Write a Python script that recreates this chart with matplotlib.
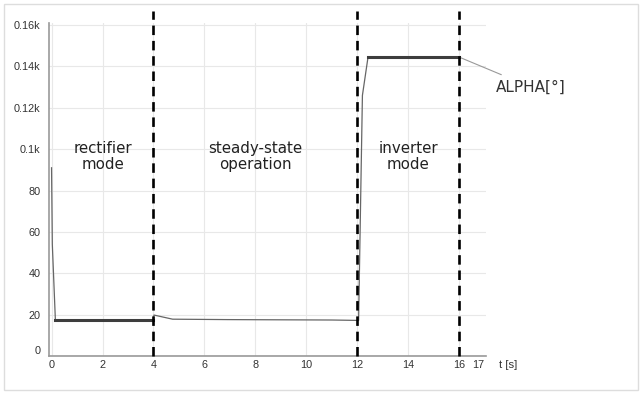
import matplotlib
matplotlib.use("Agg")
import matplotlib.pyplot as plt
from matplotlib.patches import Rectangle

# ALPHA trace (time in s, angle in degrees)
t_alpha = [0.0, 0.03, 0.15, 4.0, 4.02, 4.75, 6.9, 11.0, 12.05, 12.2, 12.42, 16.0]
alpha = [91, 54, 17.5, 17.5, 19.8, 17.8, 17.6, 17.4, 17.2, 126, 144.5, 144.5]

# noisy flat parts, drawn as thick bands
band_start = [0.15, 12.42]
band_end = [4.0, 16.0]
band_level = [17.5, 144.5]

mode_bounds = [4, 12, 16]
mode_names = ["rectifier\nmode", "steady-state\noperation", "inverter\nmode"]
mode_centers = [2, 8, 14]

x_ticks = [0, 2, 4, 6, 8, 10, 12, 14, 16, 17]
y_ticks = [0, 20, 40, 60, 80, 100, 120, 140, 160]
y_labels = ["0", "20", "40", "60", "80", "0.1k", "0.12k", "0.14k", "0.16k"]

fig = plt.figure(figsize=(6.42, 3.94), dpi=100)
ax = fig.add_axes([49 / 642, 38 / 394, 437 / 642, 333 / 394])

# outer frame
fig.patches.append(Rectangle((4 / 642, 4 / 394), 634 / 642, 386 / 394,
                             transform=fig.transFigure, fill=False,
                             edgecolor="#dddddd", linewidth=1))

ax.plot(t_alpha, alpha, color="#666666", linewidth=0.9, zorder=3)
for s, e, v in zip(band_start, band_end, band_level):
    ax.plot([s, e], [v, v], color="#3d3d3d", linewidth=2.2, zorder=3)

for b in mode_bounds:
    ax.axvline(b, ymin=0, ymax=1.035, color="black", linewidth=1.9,
               dashes=(3.6, 2.2), clip_on=False, zorder=4)

for c, name in zip(mode_centers, mode_names):
    ax.text(c, 96.5, name, ha="center", va="center", fontsize=10.8,
            color="#222222", family="DejaVu Sans", linespacing=1.15)

ax.annotate("ALPHA[°]", xy=(t_alpha[-1], alpha[-1]), xytext=(17.45, 130),
            textcoords="data", fontsize=11, color="#333333", va="center",
            family="DejaVu Sans", annotation_clip=False,
            arrowprops=dict(arrowstyle="-", color="#999999", lw=0.8,
                            shrinkA=4, shrinkB=0))

ax.set_xlim(-0.1, 17.05)
ax.set_ylim(0, 161)
ax.set_xticks(x_ticks)
ax.set_xticklabels([str(x) for x in x_ticks])
ax.set_yticks(y_ticks)
ax.set_yticklabels(y_labels)
ax.tick_params(length=0, labelsize=7.8, labelcolor="#333333")
ax.tick_params(axis="x", pad=3)
ax.tick_params(axis="y", pad=6)
for lab in ax.get_xticklabels() + ax.get_yticklabels():
    lab.set_family("Liberation Sans")
ax.get_yticklabels()[0].set_va("bottom")
ax.get_xticklabels()[-1].set_ha("right")

ax.grid(True, color="#e8e8e8", linewidth=0.8, zorder=0)
ax.xaxis.get_gridlines()[-1].set_visible(False)
ax.set_axisbelow(True)

for side in ["top", "right"]:
    ax.spines[side].set_visible(False)
for side in ["left", "bottom"]:
    ax.spines[side].set_color("#999999")
    ax.spines[side].set_linewidth(1.2)

ax.text(1.03, -0.012, "t [s]", transform=ax.transAxes, fontsize=8.2,
        color="#333333", family="Liberation Sans", va="top", ha="left")

fig.savefig("out.png", dpi=100)
